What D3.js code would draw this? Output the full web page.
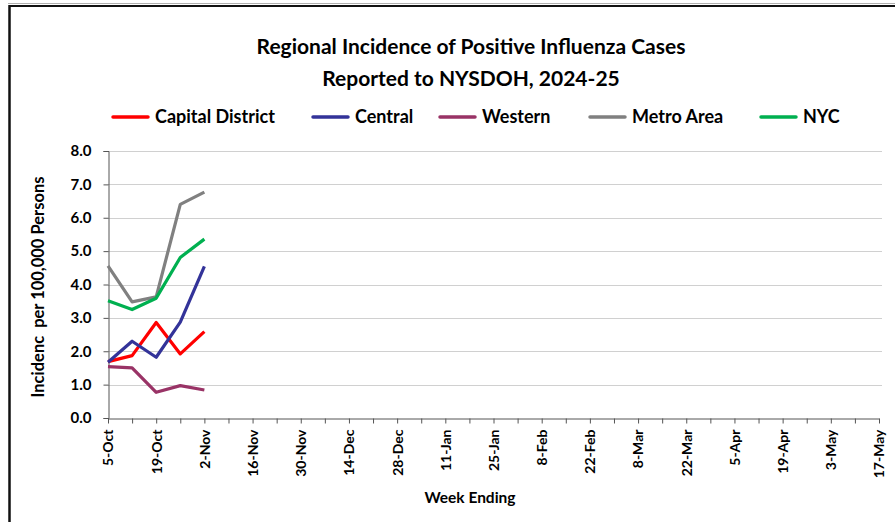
<!DOCTYPE html>
<html>
<head>
<meta charset="utf-8">
<title>Regional Incidence of Positive Influenza Cases</title>
<script src="https://d3js.org/d3.v7.min.js"></script>
<style>
  body { margin: 0; background: #fff; }
  text { font-family: Lato, "Open Sans", sans-serif; font-weight: bold; fill: #000; }
</style>
</head>
<body>
<div id="chart"></div>
<script>
// week ending labels (every other week is labelled)
var xLabels = ["5-Oct","19-Oct","2-Nov","16-Nov","30-Nov","14-Dec","28-Dec","11-Jan","25-Jan",
               "8-Feb","22-Feb","8-Mar","22-Mar","5-Apr","19-Apr","3-May","17-May"];
var nWeeks = 33;
var yTicks = [0,1,2,3,4,5,6,7,8];

var regions = ["Capital District","Central","Western","Metro Area","NYC"];
var colors  = ["#ff0000","#333399","#993366","#808080","#00b050"];

// weekly values (weeks 0..4 : 5-Oct .. 2-Nov)
var capital = [1.69, 1.87, 2.86, 1.92, 2.59];
var central = [1.67, 2.30, 1.82, 2.87, 4.54];
var western = [1.54, 1.50, 0.77, 0.97, 0.84];
var metro   = [4.56, 3.48, 3.63, 6.40, 6.77];
var nyc     = [3.51, 3.25, 3.59, 4.81, 5.36];
var series  = [capital, central, western, metro, nyc];

var W = 895, H = 522;
var svg = d3.select("#chart").append("svg")
    .attr("width", W).attr("height", H);

svg.append("rect").attr("width", W).attr("height", H).attr("fill", "#fff");

// outer frame (top + left)
svg.append("line").attr("x1", 8).attr("x2", W).attr("y1", 3.5).attr("y2", 3.5)
    .attr("stroke", "#b0b0b0").attr("stroke-width", 1);
svg.append("line").attr("x1", 9).attr("x2", W).attr("y1", 6).attr("y2", 6)
    .attr("stroke", "#111").attr("stroke-width", 2);
svg.append("line").attr("x1", 9.5).attr("x2", 9.5).attr("y1", 5).attr("y2", H)
    .attr("stroke", "#111").attr("stroke-width", 2.5);

var x = d3.scaleLinear().domain([0, nWeeks - 1]).range([108, 879]);
var y = d3.scaleLinear().domain([0, 8]).range([418, 151]);

// gridlines
svg.append("g").selectAll("line")
    .data(yTicks.slice(1))
    .enter().append("line")
    .attr("x1", x(0)).attr("x2", 882)
    .attr("y1", function(d) { return Math.round(y(d)) + 0.5; })
    .attr("y2", function(d) { return Math.round(y(d)) + 0.5; })
    .attr("stroke", "#d0d0d0").attr("stroke-width", 1);

// y axis
var yAxis = svg.append("g")
    .attr("transform", "translate(" + (x(0) + 0.5) + ",0)")
    .call(d3.axisLeft(y).tickValues(yTicks).tickFormat(d3.format(".1f")).tickSizeOuter(0).tickSize(5).tickPadding(12));
yAxis.select(".domain").attr("stroke", "#555");
yAxis.selectAll(".tick line").attr("stroke", "#555");
yAxis.selectAll("text").style("font-size", "15px").style("font-family", "Lato, sans-serif").style("font-weight", "bold");

// x axis
var xAxis = svg.append("g")
    .attr("transform", "translate(0," + (Math.round(y(0)) + 0.5) + ")")
    .call(d3.axisBottom(x).tickValues(d3.range(nWeeks)).tickSize(5).tickSizeOuter(0)
      .tickFormat(function(d) { return d % 2 === 0 ? xLabels[d / 2] : ""; }));
xAxis.select(".domain").attr("stroke", "#555");
xAxis.selectAll(".tick line").attr("stroke", "#555");
xAxis.selectAll("text")
    .style("font-size", "14px").style("font-family", "Lato, sans-serif").style("font-weight", "bold")
    .attr("text-anchor", "end")
    .attr("transform", "rotate(-90)")
    .attr("x", -11).attr("y", 0).attr("dy", "0.35em");

// lines
var line = d3.line()
    .x(function(d, i) { return x(i); })
    .y(function(d) { return y(d); });

svg.append("g").selectAll("path")
    .data(series)
    .enter().append("path")
    .attr("fill", "none")
    .attr("stroke", function(d, i) { return colors[i]; })
    .attr("stroke-width", 3.2)
    .attr("stroke-linejoin", "round")
    .attr("d", line);

// title
svg.append("text").attr("x", 471).attr("y", 54).attr("text-anchor", "middle")
    .style("font-size", "21px").text("Regional Incidence of Positive Influenza Cases");
svg.append("text").attr("x", 471).attr("y", 86).attr("text-anchor", "middle")
    .style("font-size", "21px").text("Reported to NYSDOH, 2024-25");

// legend
var legX = [113, 313, 440, 590, 761];
var leg = svg.append("g").selectAll("g")
    .data(regions)
    .enter().append("g")
    .attr("transform", function(d, i) { return "translate(" + legX[i] + ",117)"; });
leg.append("line").attr("x1", 0).attr("x2", 35)
    .attr("stroke", function(d, i) { return colors[i]; })
    .attr("stroke-width", 3.5).attr("stroke-linecap", "round");
leg.append("text").attr("x", 42).attr("dy", "0.35em")
    .style("font-size", "18px").text(function(d) { return d; });

// axis titles
svg.append("text")
    .attr("transform", "translate(44,287) rotate(-90)")
    .attr("text-anchor", "middle")
    .style("font-size", "16.5px")
    .attr("xml:space", "preserve")
    .text("Incidenc  per 100,000 Persons");
svg.append("text").attr("x", 470).attr("y", 503).attr("text-anchor", "middle")
    .style("font-size", "15.5px").text("Week Ending");
</script>
</body>
</html>
